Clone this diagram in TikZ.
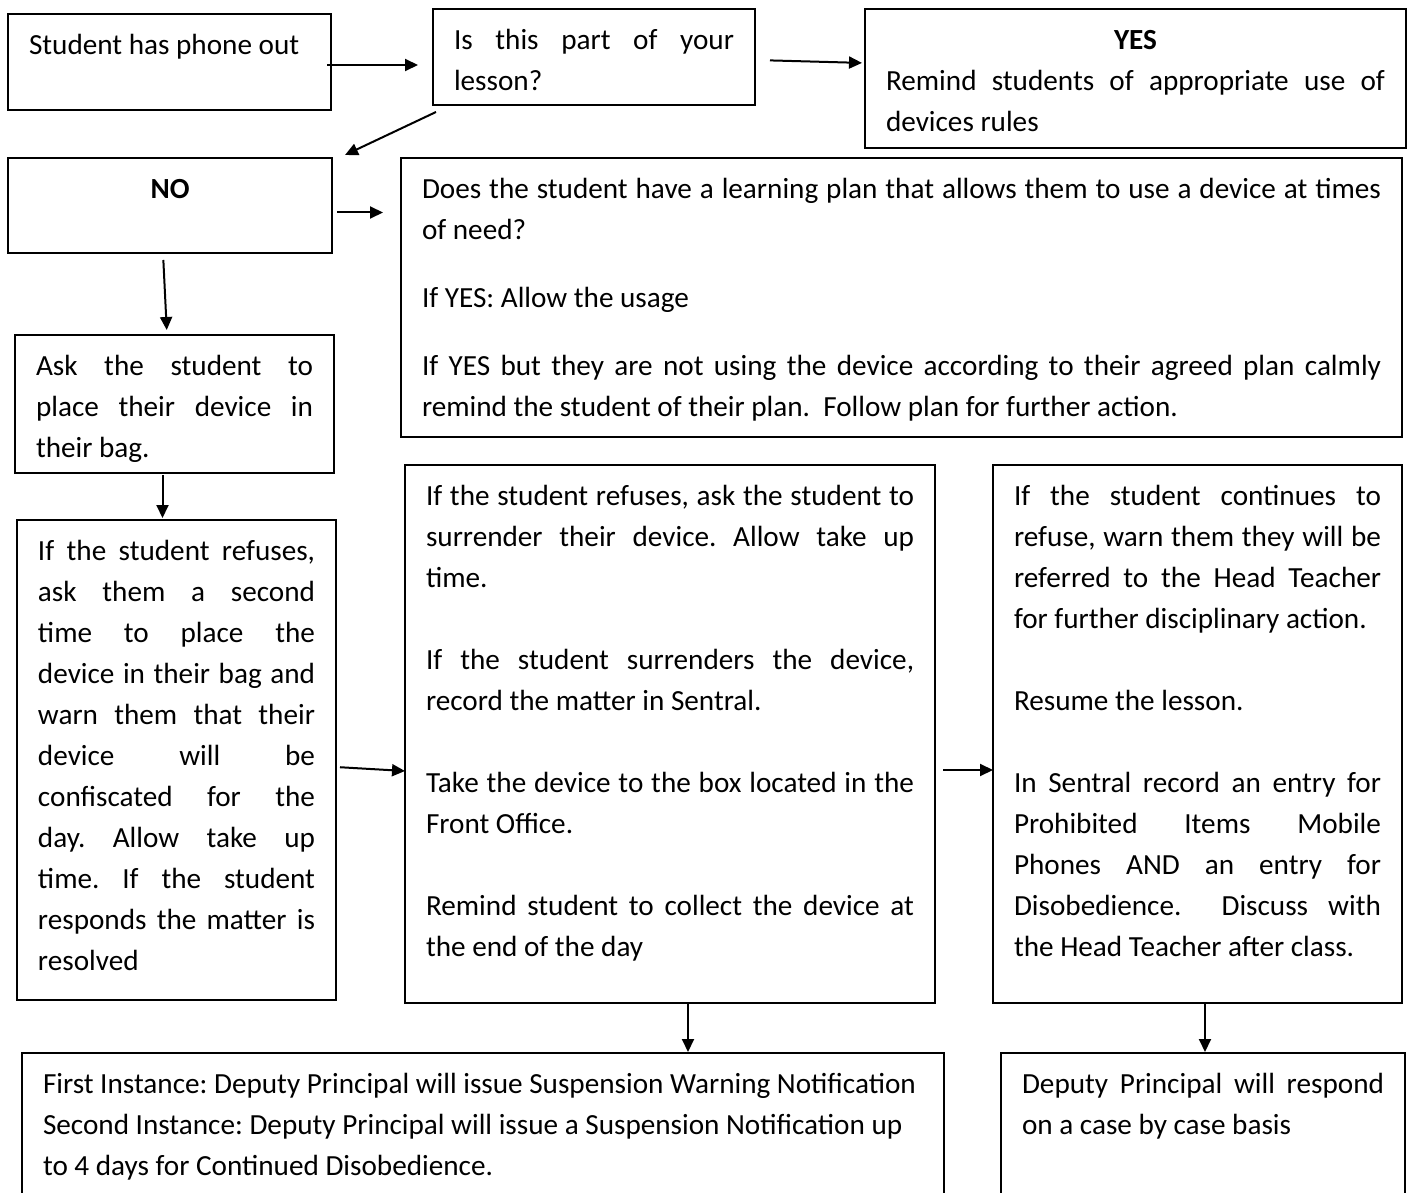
\documentclass[tikz,border=0pt]{standalone}
\usepackage{fontspec}
\setmainfont{Carlito}
\usepackage{tikz}
\usetikzlibrary{arrows.meta}
\newcommand{\boxtext}[3]{\parbox[t][#2][t]{#1}{\hrule height0pt width\linewidth\vskip5.9pt\relax#3}}
\newcommand{\jline}[1]{\hbox to\linewidth{\strut#1}}
\newcommand{\eline}[1]{\hbox{\strut#1}}
\newcommand{\mline}[1]{\hbox to\linewidth{\hfil\strut#1\hfil}}
\newcommand{\gapline}{\vskip20.5pt\relax}
\hbadness=10000
\hfuzz=6pt
\frenchspacing
\tikzset{
    stepbox/.style = {draw=black, line width=0.9pt, anchor=north west, inner xsep=10.5pt, inner ysep=0pt, outer sep=0pt, font=\fontsize{14.6pt}{20.5pt}\selectfont},
    edgen/.style = {-{Triangle[length=6.5pt,width=6pt]}, line width=1pt}
}

\begin{document}
\begin{tikzpicture}[x=0.5pt,y=-0.5pt]
  \useasboundingbox (0,0) rectangle (1410,1193);

  \node[stepbox] (start) at (8,14) {\boxtext{140.5pt}{48pt}{\eline{Student has phone out}}};
  \node[stepbox] (lesson) at (433,9) {\boxtext{140pt}{48pt}{\jline{Is this part of your}\eline{lesson?}}};
  \node[stepbox] (yes) at (865,9) {\boxtext{249.5pt}{69.5pt}{\mline{\bfseries YES}
    \jline{Remind students of appropriate use of}\eline{devices rules}}};
  \node[stepbox] (no) at (8,158) {\boxtext{141pt}{47.5pt}{\mline{\bfseries NO}}};
  \node[stepbox] (plan) at (401,158) {\boxtext{479.5pt}{139.5pt}{%
    \jline{Does the student have a learning plan that allows them to use a device at times}
    \eline{of need?}\vskip13.5pt\relax
    \eline{If YES: Allow the usage}\vskip13.5pt\relax
    \jline{If YES but they are not using the device according to their agreed plan calmly}
    \eline{remind the student of their plan.\ \ Follow plan for further action.}}};
  \node[stepbox] (ask) at (15,335) {\boxtext{138.5pt}{69pt}{%
    \jline{Ask the student to}\jline{place their device in}\eline{their bag.}}};
  \node[stepbox] (refuse) at (17,520) {\boxtext{138.5pt}{240pt}{%
    \jline{If the student refuses,}
    \jline{ask them a second}
    \jline{time to place the}
    \jline{device in their bag and}
    \jline{warn them that their}
    \jline{device will be}
    \jline{confiscated for the}
    \jline{day. Allow take up}
    \jline{time. If the student}
    \jline{responds the matter is}
    \eline{resolved}}};
  \node[stepbox] (surrender) at (405,465) {\boxtext{244pt}{269pt}{%
    \jline{If the student refuses, ask the student to}
    \jline{surrender their device. Allow take up}
    \eline{time.}\gapline
    \jline{If the student surrenders the device,}
    \eline{record the matter in Sentral.}\gapline
    \jline{Take the device to the box located in the}
    \eline{Front Office.}\gapline
    \jline{Remind student to collect the device at}
    \eline{the end of the day}}};
  \node[stepbox] (continues) at (993,465) {\boxtext{183.5pt}{269pt}{%
    \jline{If the student continues to}
    \jline{refuse, warn them they will be}
    \jline{referred to the Head Teacher}
    \eline{for further disciplinary action.}\gapline
    \eline{Resume the lesson.}\gapline
    \jline{In Sentral record an entry for}
    \jline{Prohibited Items Mobile}
    \jline{Phones AND an entry for}
    \jline{Disobedience.\ \ Discuss with}
    \eline{the Head Teacher after class.}}};
  \node[stepbox] (first) at (22,1053) {\boxtext{440pt}{80pt}{%
    \eline{First Instance: Deputy Principal will issue Suspension Warning Notification}
    \eline{Second Instance: Deputy Principal will issue a Suspension Notification up}
    \eline{to 4 days for Continued Disobedience.}}};
  \node[stepbox] (deputy) at (1001,1053) {\boxtext{181pt}{80pt}{%
    \jline{Deputy Principal will respond}\eline{on a case by case basis}}};

  \draw[edgen, shorten <=-2pt, shorten >=7.5pt] ([yshift=-1.5pt]start.east) -- ([yshift=-1.5pt]start.east -| lesson.west);
  \draw[edgen, shorten <=7.5pt, shorten >=1.5pt] ([yshift=-1.5pt]lesson.east) -- ([yshift=-3pt]lesson.east -| yes.west);
  \draw[edgen] ([shift={(3,7)}]lesson.south west) -- ([shift={(13,-3)}]no.north east);
  \draw[edgen, shorten <=2.5pt, shorten >=9pt] ([yshift=-3.5pt]no.east) -- ([yshift=-3.5pt]no.east -| plan.west);
  \draw[edgen, shorten <=3.5pt, shorten >=2.5pt] ([xshift=-3.5pt]no.south) -- ([xshift=-3.75pt]ask.north);
  \draw[edgen, shorten <=1pt, shorten >=1pt] ([xshift=-6pt]ask.south) -- ([xshift=-6pt]ask.south |- refuse.north);
  \draw[edgen, shorten <=2pt] ([yshift=-3.5pt]refuse.east) -- ([yshift=-5.5pt]refuse.east -| surrender.west);
  \draw[edgen, shorten <=4pt] ([yshift=-18pt]surrender.east) -- ([yshift=-18pt]surrender.east -| continues.west);
  \draw[edgen, shorten >=0.5pt] ([xshift=9pt]surrender.south) -- ([xshift=9pt]surrender.south |- first.north);
  \draw[edgen, shorten >=0.5pt] ([xshift=3.75pt]continues.south) -- ([xshift=3.75pt]continues.south |- deputy.north);
\end{tikzpicture}
\end{document}
